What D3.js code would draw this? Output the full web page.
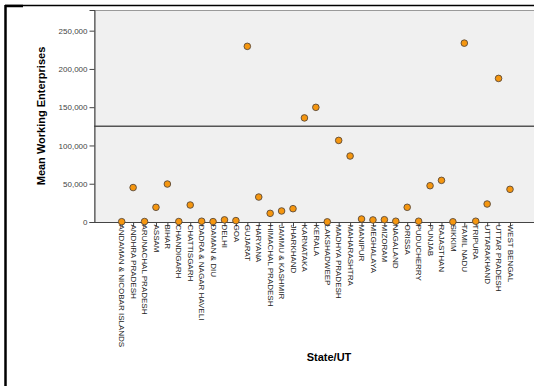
<!DOCTYPE html>
<html>
<head>
<meta charset="utf-8">
<script src="https://cdn.jsdelivr.net/npm/d3@7"></script>
<style>
  body { margin: 0; background: #fff; }
  svg { display: block; }
</style>
</head>
<body>
<div id="chart"></div>
<script>

    const WIDTH = 534;
    const HEIGHT = 390;

    // states / union territories, in the order of the x axis
    const states = ["ANDAMAN & NICOBAR ISLANDS", "ANDHRA PRADESH", "ARUNACHAL PRADESH", "ASSAM", "BIHAR",
        "CHANDIGARH", "CHATTISGARH", "DADRA & NAGAR HAVELI", "DAMAN & DIU", "DELHI", "GOA", "GUJARAT",
        "HARYANA", "HIMACHAL PRADESH", "JAMMU & KASHMIR", "JHARKHAND", "KARNATAKA", "KERALA",
        "LAKSHADWEEP", "MADHYA PRADESH", "MAHARASHTRA", "MANIPUR", "MEGHALAYA", "MIZORAM", "NAGALAND",
        "ORISSA", "PUDUCHERRY", "PUNJAB", "RAJASTHAN", "SIKKIM", "TAMIL NADU", "TRIPURA",
        "UTTARAKHAND", "UTTAR PRADESH", "WEST BENGAL"];

    // mean working enterprises
    const enterprises = [400, 45000, 600, 19200, 49600,
        600, 22200, 1000, 500, 2800, 1800, 229500,
        32600, 11300, 14400, 17400, 136000, 149800,
        200, 106600, 86200, 3900, 2700, 3000, 1000,
        19200, 1000, 47400, 54400, 300, 233700, 1000,
        23500, 187600, 42700];

    const yTicks = [0, 50000, 100000, 150000, 200000, 250000];
    const refLine = 125000;

    const plot = {left: 94, top: 10, right: 536, bottom: 222};

    var svg = d3.select("#chart").append("svg")
        .attr("width", WIDTH)
        .attr("height", HEIGHT);

    // outer frame (top and left edge only show)
    svg.append("line")
        .attr("x1", 5).attr("y1", 5.5).attr("x2", WIDTH).attr("y2", 5.5)
        .style("stroke", "#000").attr("stroke-width", 1.5);
    svg.append("line")
        .attr("x1", 5.5).attr("y1", 5).attr("x2", 5.5).attr("y2", 386)
        .style("stroke", "#000").attr("stroke-width", 2.5);
    svg.append("line")
        .attr("x1", 5).attr("y1", 6).attr("x2", 23).attr("y2", 6)
        .style("stroke", "#000").attr("stroke-width", 2.5);

    var x = d3.scalePoint()
        .domain(states)
        .range([121.7, 510]);

    var y = d3.scaleLinear()
        .domain([0, 277000])
        .range([plot.bottom, plot.top]);

    // plot background
    svg.append("rect")
        .attr("x", plot.left + 0.5)
        .attr("y", plot.top + 0.5)
        .attr("width", plot.right - plot.left)
        .attr("height", plot.bottom - plot.top)
        .attr("fill", "#f0f0f0")
        .style("stroke", "#9a9a9a");

    // reference line
    svg.append("line")
        .attr("x1", plot.left).attr("x2", plot.right)
        .attr("y1", y(refLine)).attr("y2", y(refLine))
        .style("stroke", "#555").attr("stroke-width", 1.5);

    // y axis
    var yAxis = svg.append("g")
        .attr("transform", "translate(" + (plot.left + 0.5) + ",0)")
        .call(d3.axisLeft(y).tickValues(yTicks).tickSize(5).tickFormat(d3.format(",")));
    yAxis.select(".domain").style("stroke", "#444");
    yAxis.selectAll(".tick line").style("stroke", "#444");
    yAxis.selectAll("text")
        .attr("font-family", "Liberation Sans, Arial, sans-serif")
        .attr("font-size", 8)
        .attr("fill", "#444")
        .attr("x", -7);

    // x axis
    var xAxis = svg.append("g")
        .attr("transform", "translate(0," + (plot.bottom + 0.5) + ")")
        .call(d3.axisBottom(x).tickSize(4).tickSizeOuter(0));
    xAxis.select(".domain")
        .attr("d", "M" + plot.left + ",0H" + plot.right)
        .style("stroke", "#444").attr("stroke-width", 1.2);
    xAxis.selectAll(".tick line").style("stroke", "#444");
    xAxis.selectAll("text")
        .attr("font-family", "Liberation Sans Narrow, Liberation Sans, Arial, sans-serif")
        .attr("font-size", 8)
        .attr("fill", "#222")
        .attr("transform", "rotate(90)")
        .attr("x", 2)
        .attr("y", 0)
        .attr("dy", "0.35em")
        .style("text-anchor", "start");

    // points
    svg.append("g").selectAll("circle")
        .data(enterprises)
        .join("circle")
        .attr("cx", function(d, i) { return x(states[i]); })
        .attr("cy", function(d) { return y(d); })
        .attr("r", 3.3)
        .attr("fill", "#f5960f")
        .style("stroke", "#5a4a3a")
        .attr("stroke-width", 0.9);

    // axis titles
    svg.append("text")
        .attr("transform", "translate(45," + 116 + ") rotate(-90)")
        .attr("text-anchor", "middle")
        .attr("font-family", "Liberation Sans, Arial, sans-serif")
        .attr("font-weight", "bold")
        .attr("font-size", 11)
        .text("Mean Working Enterprises");

    svg.append("text")
        .attr("x", 329)
        .attr("y", 361)
        .attr("text-anchor", "middle")
        .attr("font-family", "Liberation Sans, Arial, sans-serif")
        .attr("font-weight", "bold")
        .attr("font-size", 11)
        .text("State/UT");

</script>
</body>
</html>
